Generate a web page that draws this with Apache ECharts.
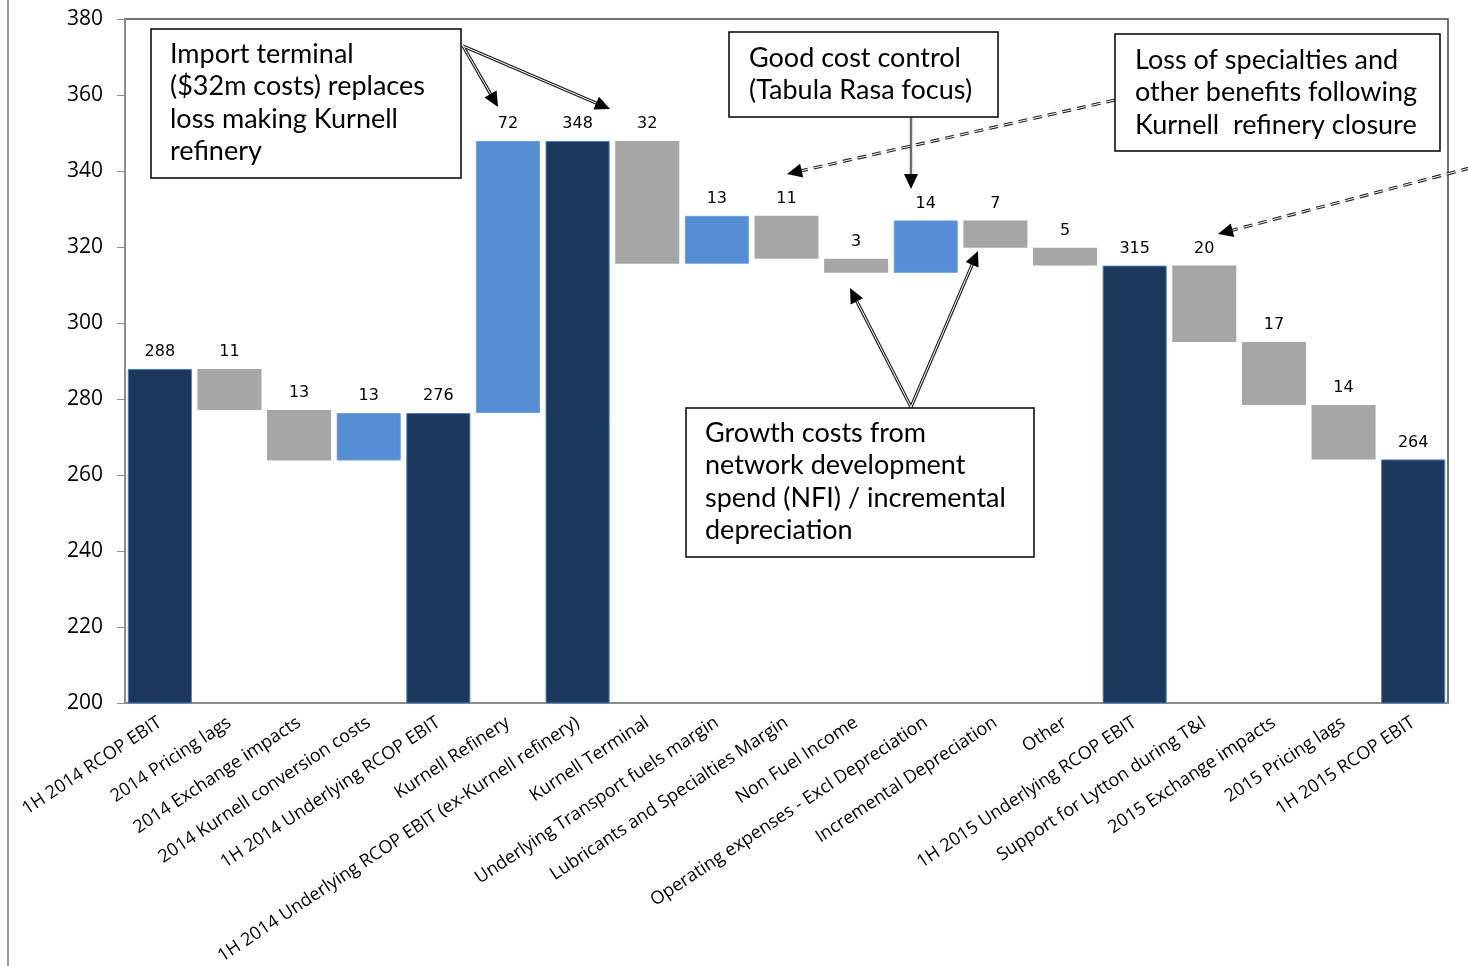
<!DOCTYPE html>
<html>
<head>
<meta charset="utf-8">
<script src="https://cdn.jsdelivr.net/npm/echarts@6/dist/echarts.min.js"></script>
<style>
  html, body { margin: 0; padding: 0; background: #fff; }
  #chart { width: 1468px; height: 966px; }
</style>
</head>
<body>
<div id="chart"></div>
<script>
const categories = [
  '1H 2014 RCOP EBIT', '2014 Pricing lags', '2014 Exchange impacts', '2014 Kurnell conversion costs',
  '1H 2014 Underlying RCOP EBIT', 'Kurnell Refinery', '1H 2014 Underlying RCOP EBIT (ex-Kurnell refinery)',
  'Kurnell Terminal', 'Underlying Transport fuels margin', 'Lubricants and Specialties Margin',
  'Non Fuel Income', 'Operating expenses - Excl Depreciation', 'Incremental Depreciation', 'Other',
  '1H 2015 Underlying RCOP EBIT', 'Support for Lytton during T&I', '2015 Exchange impacts',
  '2015 Pricing lags', '1H 2015 RCOP EBIT'
]
// running level after each step
const levels = [287.9, 277.1, 263.8, 276.3, 276.3, 347.9, 347.9, 315.6, 328.2, 316.9,
  313.2, 327.0, 319.8, 315.1, 315.1, 295.0, 278.4, 264.1, 264.1]
// numbers printed above the bars
const shownValues = [288, 11, 13, 13, 276, 72, 348, 32, 13, 11, 3, 14, 7, 5, 315, 20, 17, 14, 264]
const totalIndex = [0, 4, 6, 14, 18]

const colors = { total: '#1b375c', up: '#558ed5', down: '#a6a6a6' }

const baseData = []
const deltaData = []
levels.forEach((v, i) => {
  if (totalIndex.includes(i)) {
    baseData.push(0)
    deltaData.push({ value: v, itemStyle: { color: colors.total, borderColor: '#4a7ebb', borderWidth: 1 } })
  } else {
    const prev = levels[i - 1]
    const lo = Math.min(prev, v)
    const kind = v > prev ? 'up' : 'down'
    baseData.push(lo)
    deltaData.push({
      value: Math.abs(v - prev),
      itemStyle: kind === 'up'
        ? { color: colors.up, borderColor: '#6f9fdc', borderWidth: 1 }
        : { color: colors.down }
    })
  }
})

// annotation helpers
function arrowHead (x1, y1, x2, y2, fill) {
  const a = Math.atan2(y2 - y1, x2 - x1)
  const len = 15
  const w = 7
  const bx = x2 - len * Math.cos(a)
  const by = y2 - len * Math.sin(a)
  return {
    type: 'polygon',
    shape: { points: [[x2, y2], [bx + w * Math.sin(a), by - w * Math.cos(a)], [bx - w * Math.sin(a), by + w * Math.cos(a)]] },
    style: { fill: fill || '#000' },
    z: 120
  }
}
function doubleArrow (x1, y1, x2, y2, dashed) {
  const a = Math.atan2(y2 - y1, x2 - x1)
  const ex = x2 - 12 * Math.cos(a)
  const ey = y2 - 12 * Math.sin(a)
  const dash = dashed ? [9, 6] : null
  return [
    { type: 'line', shape: { x1, y1, x2: ex, y2: ey }, style: { stroke: '#222', lineWidth: 3.2, lineDash: dash }, z: 110 },
    { type: 'line', shape: { x1, y1, x2: ex, y2: ey }, style: { stroke: '#fff', lineWidth: 1, lineDash: dash }, z: 111 },
    arrowHead(x1, y1, x2, y2)
  ]
}
function noteBox (x, y, w, h, lines, padX, padY) {
  return [
    { type: 'rect', shape: { x, y, width: w, height: h }, style: { fill: '#fff', stroke: '#000', lineWidth: 1.5 }, z: 115 },
    {
      type: 'text',
      x: x + padX,
      y: y + padY,
      style: { text: lines.join('\n'), font: '27px Lato', fill: '#000', lineHeight: 32.5, verticalAlign: 'top' },
      z: 116
    }
  ]
}

const graphics = [
  { type: 'line', shape: { x1: 8, y1: 0, x2: 8, y2: 966 }, style: { stroke: '#9a9a9a', lineWidth: 2 } },
  ...doubleArrow(463, 46, 498, 107),
  ...doubleArrow(463, 46, 610, 109),
  { type: 'line', shape: { x1: 911, y1: 117, x2: 911, y2: 176 }, style: { stroke: '#6b6b6b', lineWidth: 2.5 }, z: 110 },
  arrowHead(911, 117, 911, 189),
  ...doubleArrow(1115, 100, 787, 174, true),
  ...doubleArrow(1470, 168, 1218, 234, true),
  ...doubleArrow(911, 407, 850, 288),
  ...doubleArrow(911, 407, 978, 251),
  ...noteBox(151, 29, 310, 149, ['Import terminal', '($32m costs) replaces', 'loss making Kurnell', 'refinery'], 19, 9),
  ...noteBox(729, 32, 269, 85, ['Good cost control', '(Tabula Rasa focus)'], 20, 10),
  ...noteBox(1115, 34, 325, 117, ['Loss of specialties and', 'other benefits following', 'Kurnell  refinery closure'], 20, 10),
  ...noteBox(686, 408, 348, 149, ['Growth costs from', 'network development', 'spend (NFI) / incremental', 'depreciation'], 19, 9)
]

const chart = echarts.init(document.getElementById('chart'))
chart.setOption({
  animation: false,
  grid: {
    left: 125,
    right: 20,
    top: 19,
    bottom: 263,
    show: true,
    borderColor: '#444',
    borderWidth: 1.5,
    outerBoundsMode: 'none'
  },
  xAxis: {
    type: 'category',
    data: categories,
    axisLine: { lineStyle: { color: '#8c8c8c', width: 2 } },
    axisTick: { show: false },
    axisLabel: {
      interval: 0,
      rotate: 33.5,
      margin: 18,
      fontFamily: 'Open Sans',
      fontSize: 18,
      color: '#000'
    }
  },
  yAxis: {
    type: 'value',
    min: 200,
    max: 380,
    interval: 20,
    splitLine: { show: false },
    axisLine: { show: true, lineStyle: { color: '#8c8c8c', width: 2 } },
    axisTick: { show: true, length: 8, lineStyle: { color: '#8c8c8c' } },
    axisLabel: { margin: 22, fontFamily: 'Open Sans', fontSize: 21, color: '#000' }
  },
  series: [
    {
      name: 'base',
      type: 'bar',
      stack: 'w',
      barCategoryGap: '8%',
      itemStyle: { color: 'transparent' },
      data: baseData,
      silent: true
    },
    {
      name: 'delta',
      type: 'bar',
      stack: 'w',
      barCategoryGap: '8%',
      data: deltaData,
      silent: true,
      label: {
        show: true,
        position: 'top',
        distance: 9,
        fontFamily: 'DejaVu Sans',
        fontSize: 16,
        color: '#000',
        formatter: p => shownValues[p.dataIndex]
      }
    }
  ],
  graphic: graphics
})
</script>
</body>
</html>
